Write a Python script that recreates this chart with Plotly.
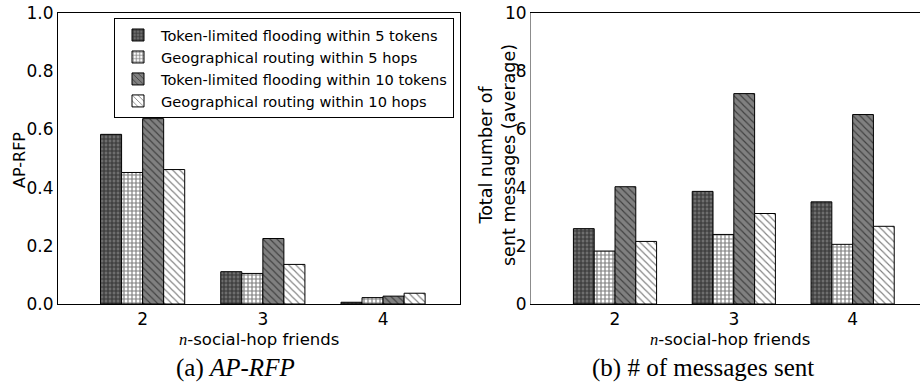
import plotly.graph_objects as go

# n-social-hop friends
hops = [2, 3, 4]

series_names = [
    "Token-limited flooding within 5 tokens",
    "Geographical routing within 5 hops",
    "Token-limited flooding within 10 tokens",
    "Geographical routing within 10 hops",
]

# (a) AP-RFP
ap_flood5 = [0.583, 0.111, 0.006]
ap_geo5 = [0.452, 0.105, 0.022]
ap_flood10 = [0.637, 0.225, 0.027]
ap_geo10 = [0.462, 0.136, 0.037]

# (b) average number of sent messages
msg_flood5 = [2.59, 3.87, 3.51]
msg_geo5 = [1.82, 2.39, 2.05]
msg_flood10 = [4.03, 7.23, 6.51]
msg_geo10 = [2.15, 3.11, 2.67]

ap_series = [ap_flood5, ap_geo5, ap_flood10, ap_geo10]
msg_series = [msg_flood5, msg_geo5, msg_flood10, msg_geo10]

# hatch style per series: (fill, pattern shape, tile size, solidity)
styles = [
    ("#6e6e6e", "+", 4, 0.5),
    ("white", "+", 4, 0.5),
    ("#808080", "\\", 5, 0.22),
    ("white", "\\", 5, 0.22),
]

SANS = "DejaVu Sans"
SERIF = "Liberation Serif"
W, H = 920, 383

fig = go.Figure()

for i, (name, st) in enumerate(zip(series_names, styles)):
    fill, shape, size, sol = st
    marker = dict(
        color=fill,
        line=dict(color="black", width=1),
        pattern=dict(shape=shape, size=size, solidity=sol,
                     fgcolor="black", fillmode="overlay"),
    )
    fig.add_trace(go.Bar(x=hops, y=ap_series[i], name=name, marker=marker,
                         xaxis="x", yaxis="y", showlegend=True))
    fig.add_trace(go.Bar(x=hops, y=msg_series[i], name=name, marker=marker,
                         xaxis="x2", yaxis="y2", showlegend=False))

def px_x(p):
    return p / W

def px_y(p):
    return 1 - p / H

ydom = [px_y(304), px_y(13)]
left_dom = [px_x(58), px_x(460)]
right_dom = [px_x(531), 1.0]
left_range = [1.296, 4.64]
right_range = [1.293, 4.567]

tickfont = dict(family=SANS, size=17, color="black")
common = dict(showgrid=False, zeroline=False, automargin=False)

fig.update_layout(
    width=W, height=H,
    margin=dict(l=0, r=0, t=0, b=0, autoexpand=False),
    paper_bgcolor="white", plot_bgcolor="white",
    barmode="group", bargap=0.3, bargroupgap=0,
    font=dict(family=SANS, color="black"),
    xaxis=dict(domain=left_dom, range=left_range, anchor="y",
               tickvals=hops, ticktext=[str(h) for h in hops],
               ticks="", showline=True, linecolor="black", linewidth=1,
               mirror=True, tickfont=tickfont, **common),
    yaxis=dict(domain=ydom, range=[0, 1.0], anchor="x",
               tickvals=[0, 0.2, 0.4, 0.6, 0.8, 1.0], tickformat=".1f",
               ticks="", showline=True, linecolor="black", linewidth=1,
               mirror=True, tickfont=tickfont, **common),
    xaxis3=dict(overlaying="x", side="top", anchor="y", range=left_range,
                tickvals=hops, ticks="inside", ticklen=5, tickcolor="black",
                showticklabels=False, showline=False, **common),
    yaxis3=dict(overlaying="y", side="right", anchor="x", range=[0, 1.0],
                tickvals=[0, 0.2, 0.4, 0.6, 0.8, 1.0], ticks="inside", ticklen=5,
                tickcolor="black", showticklabels=False, showline=False, **common),
    xaxis2=dict(domain=right_dom, range=right_range, anchor="y2",
                tickvals=hops, ticktext=[str(h) for h in hops],
                ticks="", showline=True, linecolor="black", linewidth=1,
                mirror=True, tickfont=tickfont, **common),
    yaxis2=dict(domain=ydom, range=[0, 10], anchor="x2",
                tickvals=[0, 2, 4, 6, 8, 10],
                ticks="", showline=True, linecolor="#8c8c8c", linewidth=1,
                mirror=False, tickfont=tickfont, **common),
    xaxis4=dict(overlaying="x2", side="top", anchor="y2", range=right_range,
                tickvals=hops, ticks="inside", ticklen=5, tickcolor="black",
                showticklabels=False, showline=False, **common),
    legend=dict(x=px_x(114), y=px_y(18), xanchor="left", yanchor="top",
                bordercolor="black", borderwidth=1, bgcolor="white",
                font=dict(family=SANS, size=14.6, color="black"),
                itemwidth=36),
    showlegend=True,
)

xlabel = "<i><span style='font-family:Liberation Serif'>n</span></i>-social-hop friends"
annotations = [
    dict(text="AP-RFP", x=px_x(19), y=px_y(160), textangle=-90, font=dict(size=16)),
    dict(text=xlabel, x=px_x(259), y=px_y(339.5), font=dict(size=16.5)),
    dict(text=xlabel, x=px_x(729.5), y=px_y(339.5), font=dict(size=16.5)),
    dict(text="Total number of<br>sent messages (average)", x=px_x(497), y=px_y(155),
         textangle=-90, font=dict(size=17.5)),
    dict(text="(a) <i>AP-RFP</i>", x=px_x(235), y=px_y(368),
         font=dict(family=SERIF, size=25)),
    dict(text="(b) # of messages sent", x=px_x(703), y=px_y(368),
         font=dict(family=SERIF, size=25)),
]
for a in annotations:
    a.update(xref="paper", yref="paper", showarrow=False,
             xanchor="center", yanchor="middle")
    a["font"].setdefault("color", "black")
fig.update_layout(annotations=annotations)

fig.write_html("out.html")
